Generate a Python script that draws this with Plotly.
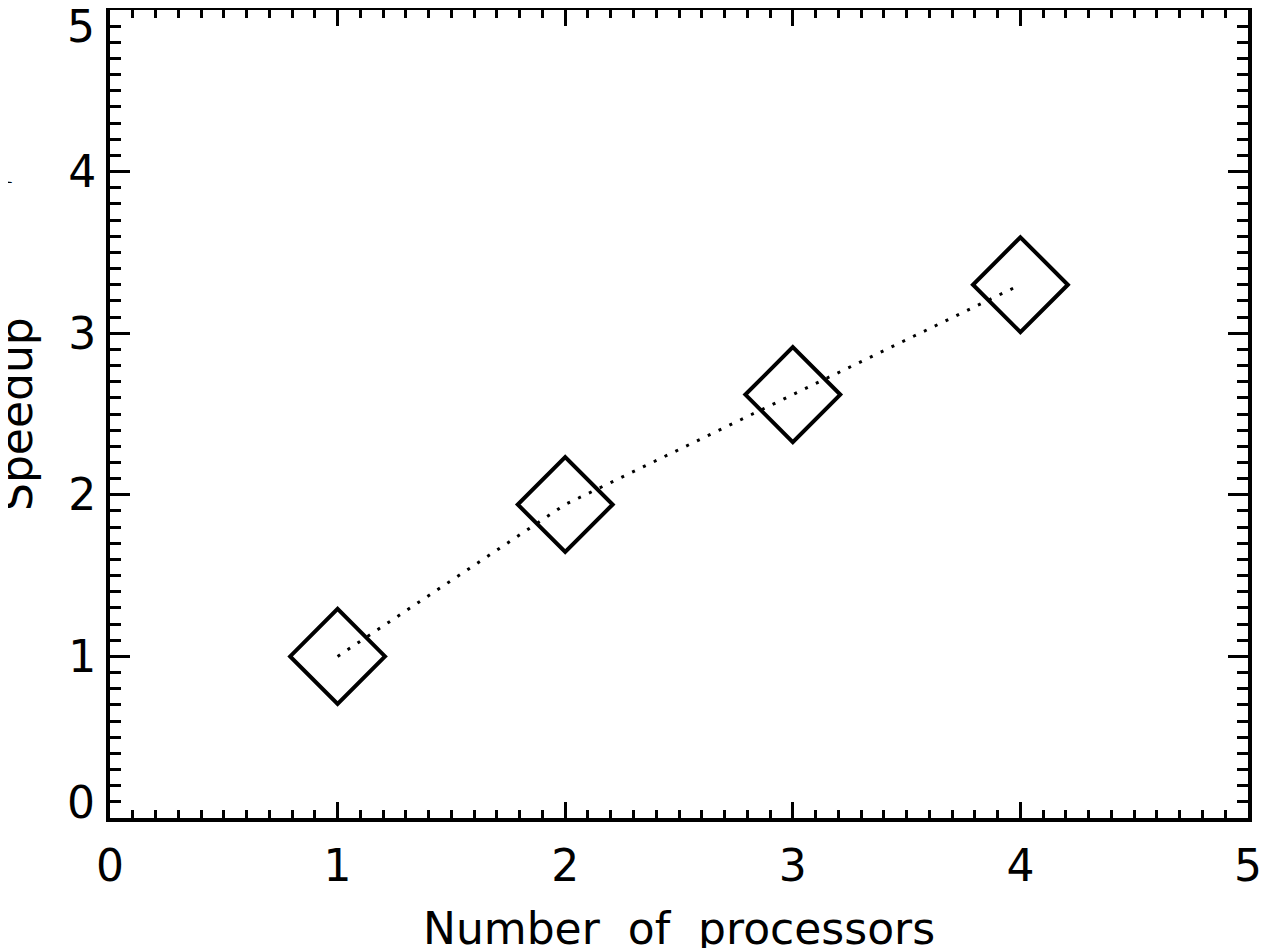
import plotly.graph_objects as go

# Data
processors = [1, 2, 3, 4]
speedup = [1.0, 1.94, 2.62, 3.30]
x_ticks = [0, 1, 2, 3, 4, 5]
y_ticks = [0, 1, 2, 3, 4, 5]
x_title = "Number\u00a0 of\u00a0 processors"
y_title = "Speedup"

FONT = "DejaVu Sans"
FS = 44

fig = go.Figure()
fig.add_trace(go.Scatter(
    x=processors, y=speedup,
    mode="lines+markers",
    line=dict(color="black", width=3, dash="3px,9px"),
    marker=dict(symbol="diamond-open", size=73, color="black",
                line=dict(color="black", width=4)),
    cliponaxis=False,
    showlegend=False,
))

common = dict(
    showline=True, linecolor="black", linewidth=4, mirror="allticks",
    ticks="inside", tickcolor="black", tickwidth=3,
    showgrid=False, zeroline=False, automargin=False,
    tickfont=dict(family=FONT, size=FS, color="black"),
)

fig.update_xaxes(range=[0, 5], tickvals=x_ticks, ticktext=[str(v) for v in x_ticks],
                 ticklen=16, ticklabelstandoff=6,
                 minor=dict(dtick=0.1, ticks="inside", ticklen=8, tickwidth=3,
                            tickcolor="black", showgrid=False),
                 **common)
# inner y labels on the axis; the two end labels sit slightly inward (annotations below)
y_text = ["" if v in (y_ticks[0], y_ticks[-1]) else str(v) for v in y_ticks]
fig.update_yaxes(range=[0, 5], tickvals=y_ticks, ticktext=y_text,
                 ticklen=20, ticklabelstandoff=1,
                 minor=dict(dtick=0.1, ticks="inside", ticklen=11, tickwidth=3,
                            tickcolor="black", showgrid=False),
                 **common)

for v, shift in ((y_ticks[0], 16), (y_ticks[-1], -16)):
    fig.add_annotation(text=str(v), xref="paper", yref="y", x=0, y=v,
                       xanchor="right", yanchor="middle", xshift=-13, yshift=shift,
                       showarrow=False, font=dict(family=FONT, size=FS, color="black"))

fig.add_annotation(text=x_title, xref="paper", yref="paper", x=0.5, y=0,
                   xanchor="center", yanchor="top", yshift=-83, showarrow=False,
                   font=dict(family=FONT, size=FS, color="black"))
fig.add_annotation(text=y_title, xref="paper", yref="paper", x=0, y=0.5,
                   xanchor="center", yanchor="middle", xshift=-94, textangle=-90,
                   showarrow=False, font=dict(family=FONT, size=FS, color="black"))
fig.add_annotation(text="1", xref="paper", yref="paper", x=0, y=(810 - 162) / 808,
                   xanchor="right", yanchor="middle", xshift=-94, showarrow=False,
                   font=dict(family="Liberation Serif", size=38, color="black"))

fig.update_layout(
    width=1276, height=948,
    margin=dict(l=102, r=36, t=2, b=138, autoexpand=False),
    paper_bgcolor="white", plot_bgcolor="white",
    template="none",
)

fig.write_html("out.html")
